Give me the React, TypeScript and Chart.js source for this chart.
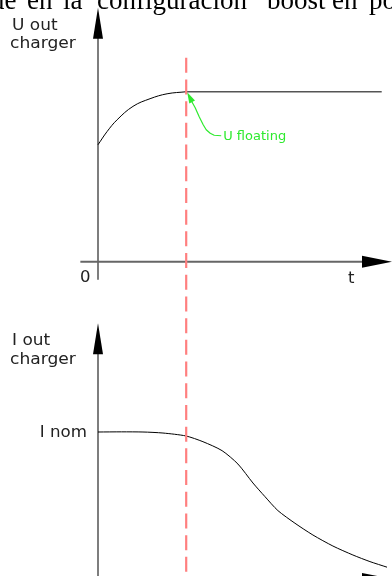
import React, { useEffect, useRef } from "react";
import { Chart, registerables } from "chart.js";

Chart.register(...registerables);

// ---- data ----
const U_RISE_TIME = [0, 0.31, 0.65, 1.19, 1.77, 2.35, 3.0];
const U_RISE_VALUES = [0.688, 0.766, 0.835, 0.914, 0.959, 0.988, 1.0];
const U_FLAT_TIME = [3.0, 9.65];
const U_FLAT_VALUES = [1.0, 1.0];
const I_TIME = [0, 0.8, 1.53, 2.21, 2.99, 3.57, 4.22, 4.76, 5.27, 5.68, 6.12, 6.7, 7.31, 7.99, 8.67, 9.25, 9.83];
const I_VALUES = [1.0, 1.001, 1.0, 0.993, 0.973, 0.934, 0.873, 0.782, 0.653, 0.56, 0.465, 0.379, 0.299, 0.224, 0.163, 0.118, 0.08];
const T_FLOAT = 3.0;

// ---- labels ----
const U_AXIS_LABEL = ["U out", "charger"];
const I_AXIS_LABEL = ["I out", "charger"];
const I_NOM_LABEL = "I nom";
const ORIGIN_LABEL = "0";
const TIME_LABEL = "t";
const FLOAT_LABEL = "U floating";
const TITLE_WORDS = ["ue", "en", "la", "configuración", "boost", "en", "po"];
const TITLE_X = [-9, 27, 63, 97, 267, 332, 369];

// axis extents (data units)
const T_MIN = 0;
const T_MAX = 10;
const U_MIN = -1.85;
const U_MAX = 1.54;
const I_MIN = 0.02;
const I_MAX = 3.94;

function stretched(ctx: CanvasRenderingContext2D, text: string, x: number, y: number, sx: number) {
  ctx.save();
  ctx.translate(x, y);
  ctx.scale(sx, 1);
  ctx.fillText(text, 0, 0);
  ctx.restore();
}

const diagramPlugin = {
  id: "diagram",
  beforeDatasetsDraw(chart: any) {
    const ctx: CanvasRenderingContext2D = chart.ctx;
    const x = chart.scales.x;
    const yU = chart.scales.yU;
    const yI = chart.scales.yI;
    const x0 = x.getPixelForValue(0);
    const xEnd = x.getPixelForValue(T_MAX);
    const xStart = x.getPixelForValue(-0.6);
    const u0 = yU.getPixelForValue(0);
    const uTop = yU.getPixelForValue(1.494);
    const uBottom = yU.getPixelForValue(-0.107);
    const i0 = yI.getPixelForValue(0);
    const iTop = yI.getPixelForValue(1.74);

    ctx.save();
    ctx.lineWidth = 2;
    ctx.lineCap = "butt";
    ctx.strokeStyle = "#7e7e7e";
    // top vertical axis
    ctx.beginPath();
    ctx.moveTo(x0, uTop + 28);
    ctx.lineTo(x0, uBottom);
    ctx.stroke();
    // bottom vertical axis
    ctx.beginPath();
    ctx.moveTo(x0, iTop + 28);
    ctx.lineTo(x0, chart.height + 2);
    ctx.stroke();
    ctx.strokeStyle = "#666";
    // top time axis
    ctx.beginPath();
    ctx.moveTo(xStart, u0);
    ctx.lineTo(xEnd - 29, u0);
    ctx.stroke();
    // bottom time axis
    ctx.beginPath();
    ctx.moveTo(xStart, i0);
    ctx.lineTo(xEnd - 29, i0);
    ctx.stroke();

    ctx.fillStyle = "#000";
    const vArrow = (tipY: number) => {
      ctx.beginPath();
      ctx.moveTo(x0, tipY);
      ctx.lineTo(x0 + 5, tipY + 31);
      ctx.lineTo(x0 - 5, tipY + 31);
      ctx.closePath();
      ctx.fill();
    };
    const hArrow = (yy: number) => {
      ctx.beginPath();
      ctx.moveTo(xEnd, yy);
      ctx.lineTo(xEnd - 30, yy - 6);
      ctx.lineTo(xEnd - 30, yy + 6);
      ctx.closePath();
      ctx.fill();
    };
    vArrow(uTop);
    vArrow(iTop);
    hArrow(u0);
    hArrow(i0);
    ctx.restore();
  },
  afterDatasetsDraw(chart: any) {
    const ctx: CanvasRenderingContext2D = chart.ctx;
    const x = chart.scales.x;
    const yU = chart.scales.yU;
    const yI = chart.scales.yI;
    const x0 = x.getPixelForValue(0);
    const xf = x.getPixelForValue(T_FLOAT);
    const u0 = yU.getPixelForValue(0);
    const uf = yU.getPixelForValue(1.0);
    const iNom = yI.getPixelForValue(1.0);

    ctx.save();
    // red dashed marker
    ctx.strokeStyle = "#ff7f7f";
    ctx.lineWidth = 2.2;
    ctx.setLineDash([15, 6.7]);
    ctx.beginPath();
    ctx.moveTo(xf, yU.getPixelForValue(1.2));
    ctx.lineTo(xf, chart.height);
    ctx.stroke();
    ctx.setLineDash([]);

    // green annotation
    const green = "#2eea2e";
    ctx.strokeStyle = green;
    ctx.fillStyle = green;
    ctx.lineWidth = 1.2;
    ctx.lineJoin = "round";
    const pts = [
      [4, 7], [9, 16], [13, 25], [17, 33], [20, 38], [24, 41.5], [28, 43.5], [35, 44],
    ];
    ctx.beginPath();
    ctx.moveTo(xf + pts[0][0], uf + pts[0][1]);
    for (let k = 1; k < pts.length; k++) ctx.lineTo(xf + pts[k][0], uf + pts[k][1]);
    ctx.stroke();
    // arrow head
    const tipX = xf + 1;
    const tipY = uf + 0.5;
    const dx = 0.45, dy = 0.89;
    const len = 11, hw = 3.2;
    ctx.beginPath();
    ctx.moveTo(tipX, tipY);
    ctx.lineTo(tipX + dx * len - dy * hw, tipY + dy * len + dx * hw);
    ctx.lineTo(tipX + dx * len + dy * hw, tipY + dy * len - dx * hw);
    ctx.closePath();
    ctx.fill();
    ctx.font = "11.5px 'DejaVu Sans'";
    ctx.textBaseline = "alphabetic";
    stretched(ctx, FLOAT_LABEL, xf + 37, uf + 48.5, 1.13);

    // axis labels
    ctx.fillStyle = "#222";
    ctx.font = "15px 'DejaVu Sans'";
    ctx.textBaseline = "alphabetic";
    stretched(ctx, U_AXIS_LABEL[0], 12, 29.5, 1.13);
    stretched(ctx, U_AXIS_LABEL[1], 10, 47.5, 1.14);
    stretched(ctx, I_AXIS_LABEL[0], 12, 345, 1.13);
    stretched(ctx, I_AXIS_LABEL[1], 10, 363.5, 1.14);
    const w = ctx.measureText(I_NOM_LABEL).width * 1.11;
    stretched(ctx, I_NOM_LABEL, x0 - 11 - w, iNom + 5, 1.11);
    stretched(ctx, ORIGIN_LABEL, x0 - 18, u0 + 20.5, 1.1);
    stretched(ctx, TIME_LABEL, x.getPixelForValue(8.5), u0 + 21, 1.1);

    // clipped line of the surrounding document text
    ctx.fillStyle = "#000";
    ctx.font = "27px 'Liberation Serif'";
    for (let k = 0; k < TITLE_WORDS.length; k++) {
      ctx.fillText(TITLE_WORDS[k], TITLE_X[k], 9);
    }
    ctx.restore();
  },
};

export default function App() {
  const ref = useRef<HTMLCanvasElement | null>(null);
  useEffect(() => {
    if (!ref.current) return;
    const chart = new Chart(ref.current, {
      type: "line",
      data: {
        datasets: [
          {
            label: "U out charger (rise)",
            data: U_RISE_TIME.map((t, k) => ({ x: t, y: U_RISE_VALUES[k] })),
            yAxisID: "yU",
            borderColor: "#000",
            borderWidth: 1,
            pointRadius: 0,
            tension: 0.4,
            clip: false,
          },
          {
            label: "U out charger (floating)",
            data: U_FLAT_TIME.map((t, k) => ({ x: t, y: U_FLAT_VALUES[k] })),
            yAxisID: "yU",
            borderColor: "#555",
            borderWidth: 1.6,
            pointRadius: 0,
            clip: false,
          },
          {
            label: "I out charger",
            data: I_TIME.map((t, k) => ({ x: t, y: I_VALUES[k] })),
            yAxisID: "yI",
            borderColor: "#000",
            borderWidth: 1,
            pointRadius: 0,
            tension: 0.25,
            clip: false,
          },
        ],
      },
      options: {
        responsive: false,
        animation: false,
        events: [],
        layout: { padding: { left: 98, right: 0, top: 0, bottom: 0 } },
        plugins: { legend: { display: false }, tooltip: { enabled: false }, title: { display: false } },
        scales: {
          x: { type: "linear", min: T_MIN, max: T_MAX, display: false },
          yU: { type: "linear", min: U_MIN, max: U_MAX, display: false },
          yI: { type: "linear", min: I_MIN, max: I_MAX, display: false },
        },
      },
      plugins: [diagramPlugin],
    } as any);
    return () => chart.destroy();
  }, []);
  return (
    <div style={{ position: "fixed", left: 0, top: 0, width: 392, height: 576, background: "#fff" }}>
      <canvas ref={ref} width={392} height={576} style={{ display: "block" }} />
    </div>
  );
}
